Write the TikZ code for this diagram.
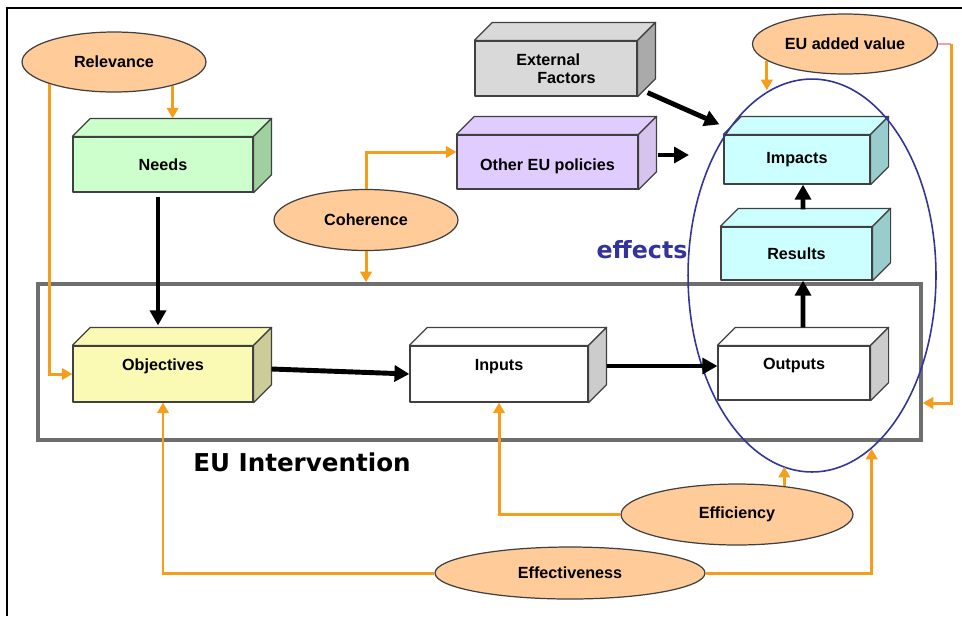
\documentclass[tikz,border=0pt]{standalone}
\usepackage{fontspec}
\setmainfont{Liberation Sans}
\newfontfamily\verdfont{DejaVu Sans}
\usetikzlibrary{shapes.geometric,calc,arrows.meta}

\definecolor{critfill}{RGB}{255,204,153}
\definecolor{critline}{RGB}{245,158,27}
\definecolor{pinkline}{RGB}{240,160,170}
\definecolor{effblue}{RGB}{51,51,153}
\definecolor{needsfront}{RGB}{204,255,204}
\definecolor{needsside}{RGB}{160,207,160}
\definecolor{objfront}{RGB}{250,250,180}
\definecolor{objside}{RGB}{204,204,153}
\definecolor{cyanfront}{RGB}{204,255,255}
\definecolor{cyanside}{RGB}{153,204,204}
\definecolor{grayfront}{RGB}{217,217,217}
\definecolor{grayside}{RGB}{170,170,170}
\definecolor{lilacfront}{RGB}{224,204,255}
\definecolor{lilacside}{RGB}{214,196,238}
\definecolor{whiteside}{RGB}{204,204,204}
\definecolor{intervgray}{RGB}{110,110,110}

\begin{document}
\begin{tikzpicture}[x=0.02cm,y=-0.02cm,
    boxline/.style={draw=black!75,line width=0.7pt,line join=round},
    front/.style={boxline,rectangle,inner sep=0pt,font=\fontsize{9.2}{10.5}\selectfont\bfseries},
    raised/.style={text height=7pt,text depth=11pt},
    lowered/.style={text height=12pt,text depth=2pt},
    crit/.style={ellipse,draw=black!75,line width=0.7pt,fill=critfill,inner sep=0pt,
        font=\fontsize{9.2}{10.5}\selectfont\bfseries},
    mainarrow/.style={line width=2.8pt,-{Triangle[length=8.5pt,width=9pt]}},
    critarrow/.style={draw=critline,line width=1.7pt,-{Triangle[length=6pt,width=6.5pt]}}]

    \newcommand{\Depth}{18}
    % top and side faces of a box, #1 node, #2 top colour, #3 side colour
    \newcommand{\boxsides}[3]{%
        \draw[boxline,fill=#2] (#1.north west) -- ++(\Depth,-\Depth) -- ($(#1.north east)+(\Depth,-\Depth)$) -- (#1.north east) -- cycle;% Top Face
        \draw[boxline,fill=#3] (#1.north east) -- ++(\Depth,-\Depth) -- ($(#1.south east)+(\Depth,-\Depth)$) -- (#1.south east) -- cycle;% Side Face
    }

    \useasboundingbox (0,0) rectangle (962,616);
    \draw[line width=1.2pt] (7,616) -- (7,8) -- (962,8);

    % the intervention frame
    \node[draw=intervgray,line width=2.1pt,minimum width=17.66cm,minimum height=3.12cm,inner sep=0pt] (interv) at (479.5,362) {};
    \node[font=\verdfont\fontsize{14}{16}\selectfont\bfseries] (intervlabel) at (302,462) {EU Intervention};
    \node[font=\verdfont\fontsize{13.5}{16}\selectfont\bfseries,text=effblue] (efflabel) at (642,250) {effects};

    % boxes
    \node[front,fill=needsfront,minimum width=3.6cm,minimum height=1.1cm] (needs) at (163,164.5) {Needs};
    \boxsides{needs}{needsfront}{needsside}
    \node[front,raised,fill=objfront,minimum width=3.6cm,minimum height=1.12cm] (obj) at (163,374) {Objectives};
    \boxsides{obj}{objfront}{objside}
    \node[front,raised,fill=white,minimum width=3.56cm,minimum height=1.12cm] (inp) at (499,374) {Inputs};
    \boxsides{inp}{white}{whiteside}
    \node[front,raised,fill=white,minimum width=3.04cm,minimum height=1.08cm] (out) at (794,373) {Outputs};
    \boxsides{out}{white}{whiteside}
    \node[front,fill=cyanfront,minimum width=3.02cm,minimum height=1.06cm] (res) at (796.5,253.5) {Results};
    \boxsides{res}{cyanfront}{cyanside}
    \node[front,fill=cyanfront,minimum width=2.92cm,minimum height=0.98cm] (imp) at (797,159.5) {Impacts};
    \boxsides{imp}{cyanfront}{cyanside}
    \node[front,fill=grayfront,minimum width=3.24cm,minimum height=1.1cm,align=left] (ext) at (556,68.5) {External\\\hspace*{1.3em}Factors};
    \boxsides{ext}{grayfront}{grayside}
    \node[front,lowered,fill=lilacfront,minimum width=3.62cm,minimum height=1.08cm] (oth) at (547.5,162) {Other EU policies};
    \boxsides{oth}{lilacfront}{lilacside}

    % criteria
    \node[crit,minimum width=3.68cm,minimum height=1.2cm] (rel) at (114,62) {Relevance};
    \node[crit,minimum width=3.68cm,minimum height=1.22cm] (coh) at (366,220) {Coherence};
    \node[crit,minimum width=3.7cm,minimum height=1.2cm] (eav) at (845,44) {EU added value};
    \node[crit,minimum width=4.64cm,minimum height=1.22cm] (eff) at (737,514.5) {Efficiency};
    \node[crit,minimum width=5.4cm,minimum height=1.04cm] (effect) at (570,573) {Effectiveness};

    % effects ellipse
    \node[ellipse,draw=effblue,line width=0.9pt,minimum width=4.96cm,minimum height=7.86cm,inner sep=0pt] (effbound) at (812,275.5) {};

    % intervention logic
    \draw[mainarrow] ($(needs.south)+(-5,4)$) -- ($(obj.north)+(-5,-20)$);
    \draw[mainarrow] ($(obj.east)+(18,-5)$) -- (inp.west);
    \draw[mainarrow] ($(inp.east)+(18,-8)$) -- ($(out.west)+(0,-7)$);
    \draw[mainarrow] ($(out.north)+(9,-18)$) -- ($(res.south)+(6.5,0)$);
    \draw[mainarrow] ($(res.north)+(6.5,-17)$) -- ($(imp.south)+(6,0)$);
    \draw[mainarrow] ($(ext.south east)+(10,-4)$) -- ($(imp.north west)+(-4,-10)$);
    \coordinate (othtip) at (689,155);
    \draw[mainarrow] ($(oth.east)+(19,-7)$) -- (othtip);

    % evaluation criteria links
    \draw[critarrow] (rel.338) -- ($(rel.338 |- needs.north)+(0,-18)$);
    \draw[critarrow] (rel.199) |- (obj.west);
    \draw[critarrow] (coh.north) |- ($(oth.west)+(0,-10)$);
    \draw[critarrow] (coh.south) -- (coh.south |- interv.north);
    \draw[critarrow] (eav.192) -- (eav.192 |- effbound.103);
    \coordinate (eavcorner) at (951,44);
    \draw[pinkline,line width=1.7pt] (eav.east) -- (eavcorner);
    \draw[critarrow] (eavcorner) |- ($(interv.east)+(0,41)$);
    \draw[critarrow] (eff.west) -| (inp.south);
    \draw[critarrow] (eff.31) -- (eff.31 |- effbound.261);
    \draw[critarrow] (effect.west) -| (obj.south);
    \draw[critarrow] (effect.east) -| (effbound.289);
\end{tikzpicture}
\end{document}
